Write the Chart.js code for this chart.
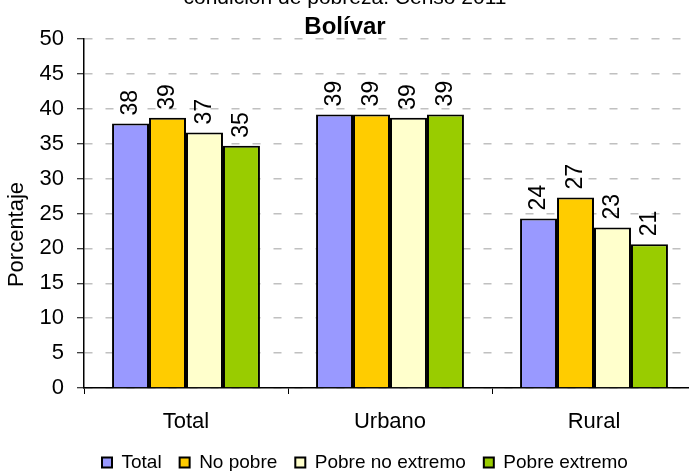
<!DOCTYPE html>
<html>
<head>
<meta charset="utf-8">
<script src="https://cdn.jsdelivr.net/npm/chart.js@4"></script>
<style>
  html, body { margin: 0; padding: 0; background: #fff; overflow: hidden; width: 689px; height: 471px; }
  #wrap { position: absolute; left: -6px; top: -19px; width: 702px; height: 501px; }
</style>
</head>
<body>
<div id="wrap"><canvas id="chart" width="702" height="501"></canvas></div>
<script>
const categories = ["Total", "Urbano", "Rural"];
const seriesNames = ["Total", "No pobre", "Pobre no extremo", "Pobre extremo"];
const totalValues = [37.9, 39.2, 24.3];
const noPobreValues = [38.7, 39.2, 27.3];
const pobreNoExtremoValues = [36.6, 38.7, 23.0];
const pobreExtremoValues = [34.7, 39.2, 20.6];
const yTicks = [0, 5, 10, 15, 20, 25, 30, 35, 40, 45, 50];
const yTitle = "Porcentaje";

const colors = ["#9999ff", "#ffcc00", "#ffffcc", "#99cc00"];
const FONT = "'Liberation Sans', Arial, sans-serif";

const series = [totalValues, noPobreValues, pobreNoExtremoValues, pobreExtremoValues];

// rotated value labels above each bar
const valueLabels = {
  id: "valueLabels",
  afterDatasetsDraw(chart) {
    const ctx = chart.ctx;
    ctx.save();
    ctx.font = `23px ${FONT}`;
    ctx.fillStyle = "#000";
    ctx.textAlign = "left";
    ctx.textBaseline = "middle";
    chart.data.datasets.forEach((ds, i) => {
      chart.getDatasetMeta(i).data.forEach((bar, j) => {
        ctx.save();
        ctx.translate(bar.x, bar.y - 8);
        ctx.rotate(-Math.PI / 2);
        ctx.fillText(String(Math.round(ds.data[j])), 0, 0);
        ctx.restore();
      });
    });
    ctx.restore();
  },
};

// y axis title sits a bit below the plot middle, like the original
const axisTitle = {
  id: "axisTitle",
  afterDraw(chart) {
    const { ctx, chartArea } = chart;
    ctx.save();
    ctx.font = `22px ${FONT}`;
    ctx.fillStyle = "#000";
    ctx.textAlign = "center";
    ctx.textBaseline = "middle";
    ctx.translate(22.5, (chartArea.top + chartArea.bottom) / 2 + 21);
    ctx.rotate(-Math.PI / 2);
    ctx.fillText(yTitle, 0, 0);
    ctx.restore();
  },
};

new Chart(document.getElementById("chart"), {
  type: "bar",
  data: {
    labels: categories,
    datasets: seriesNames.map((name, i) => ({
      label: name,
      data: series[i],
      backgroundColor: colors[i],
      borderColor: "#000",
      borderWidth: 2,
      categoryPercentage: 0.725,
      barPercentage: 1,
    })),
  },
  options: {
    responsive: false,
    animation: false,
    layout: { padding: 0 },
    plugins: {
      title: {
        display: true,
        text: "condición de pobreza. Censo 2011",
        color: "#000",
        font: { family: FONT, size: 21, weight: "normal", lineHeight: 1 },
        padding: { top: 7, bottom: 6 },
      },
      subtitle: {
        display: true,
        text: "Bolívar",
        color: "#000",
        font: { family: FONT, size: 24, weight: "bold", lineHeight: 1 },
        padding: { top: 0, bottom: 0 },
      },
      legend: {
        position: "bottom",
        align: "start",
        fullSize: false,
        labels: {
          boxWidth: 10,
          boxHeight: 10,
          padding: 18,
          color: "#000",
          font: { family: FONT, size: 19 },
        },
      },
      tooltip: { enabled: false },
    },
    scales: {
      x: {
        afterFit(scale) {
          scale.height = 47;
        },
        grid: { offset: true, drawOnChartArea: false, drawTicks: true, tickLength: 6, tickColor: "#000", tickWidth: 1 },
        border: { color: "#000", width: 1.5 },
        ticks: { color: "#000", font: { family: FONT, size: 22 }, padding: 15 },
      },
      y: {
        min: 0,
        max: 50,
        afterBuildTicks(scale) {
          scale.ticks = yTicks.map((v) => ({ value: v }));
        },
        afterFit(scale) {
          scale.width = 90;
        },
        grid: { color: "#c0c0c0", lineWidth: 1.5, tickLength: 7, tickColor: "#000", tickWidth: 1, tickBorderDash: [] },
        border: { color: "#000", width: 1.5, dash: [8, 13] },
        ticks: { color: "#000", font: { family: FONT, size: 22 }, padding: 13 },
      },
    },
  },
  plugins: [valueLabels, axisTitle],
});
</script>
</body>
</html>
